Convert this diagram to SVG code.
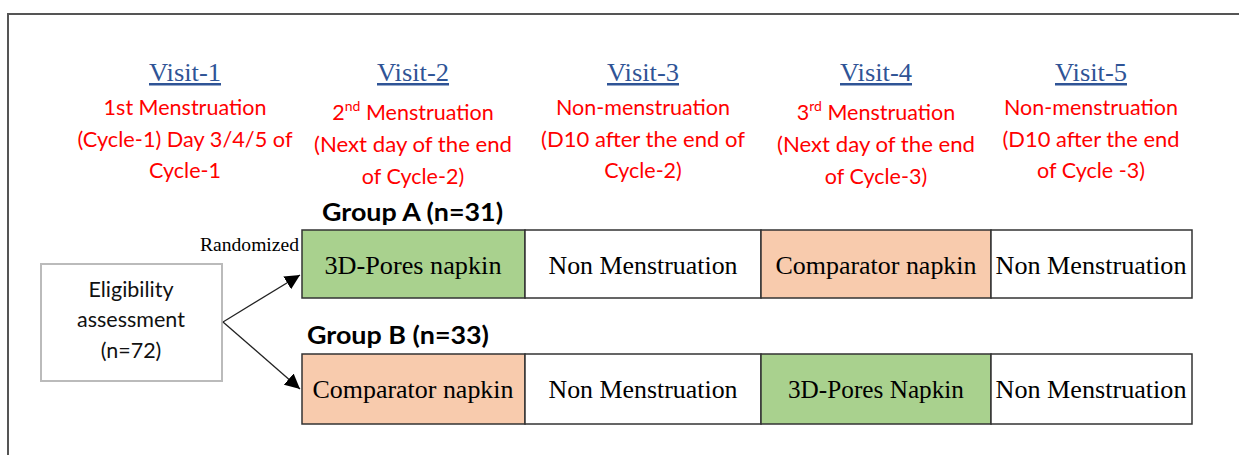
<svg xmlns="http://www.w3.org/2000/svg" width="1239" height="455" viewBox="0 0 1239 455">
<style>
.visit{font-family:"Liberation Serif",serif;font-size:25px;fill:#2F5496;text-anchor:middle;text-decoration:underline}
.red{font-family:Lato,"Liberation Sans",sans-serif;font-size:21.5px;fill:#FF0000;text-anchor:middle}
.grp{font-family:Lato,"Liberation Sans",sans-serif;font-size:24px;font-weight:bold;fill:#000}
.cell{stroke:#333;stroke-width:1.5}
.ct{font-family:"Liberation Serif",serif;font-size:26px;fill:#000;text-anchor:middle}
.el{font-family:Lato,"Liberation Sans",sans-serif;font-size:21.5px;fill:#111;text-anchor:middle}
.conn{stroke:#222;stroke-width:1.3;fill:none;marker-end:url(#ah)}
</style>
<defs>
<marker id="ah" viewBox="0 0 10 10" refX="10" refY="5" markerWidth="15" markerHeight="15" markerUnits="userSpaceOnUse" orient="auto"><path d="M0,0 L10,5 L0,10 z" fill="#000"/></marker>
</defs>
<rect width="1239" height="455" fill="#fff"/>
<path d="M8,455 V14 H1239" fill="none" stroke="#555" stroke-width="2"/>

<g id="visit1">
<text class="visit" x="185" y="81" textLength="72" lengthAdjust="spacingAndGlyphs">Visit-1</text>
<text class="red" x="185" y="115">1st Menstruation</text>
<text class="red" x="185" y="147" textLength="215" lengthAdjust="spacingAndGlyphs">(Cycle-1) Day 3/4/5 of</text>
<text class="red" x="185" y="178">Cycle-1</text>
</g>
<g id="visit2">
<text class="visit" x="413" y="81" textLength="72" lengthAdjust="spacingAndGlyphs">Visit-2</text>
<text class="red" x="413" y="120">2<tspan font-size="14" dy="-9">nd</tspan><tspan dy="9"> Menstruation</tspan></text>
<text class="red" x="413" y="152" textLength="198" lengthAdjust="spacingAndGlyphs">(Next day of the end</text>
<text class="red" x="413" y="184">of Cycle-2)</text>
</g>
<g id="visit3">
<text class="visit" x="643" y="81" textLength="72" lengthAdjust="spacingAndGlyphs">Visit-3</text>
<text class="red" x="643" y="115">Non-menstruation</text>
<text class="red" x="643" y="147" textLength="204" lengthAdjust="spacingAndGlyphs">(D10 after the end of</text>
<text class="red" x="643" y="178">Cycle-2)</text>
</g>
<g id="visit4">
<text class="visit" x="876" y="81" textLength="72" lengthAdjust="spacingAndGlyphs">Visit-4</text>
<text class="red" x="876" y="120">3<tspan font-size="14" dy="-9">rd</tspan><tspan dy="9"> Menstruation</tspan></text>
<text class="red" x="876" y="152" textLength="198" lengthAdjust="spacingAndGlyphs">(Next day of the end</text>
<text class="red" x="876" y="184">of Cycle-3)</text>
</g>
<g id="visit5">
<text class="visit" x="1091" y="81" textLength="72" lengthAdjust="spacingAndGlyphs">Visit-5</text>
<text class="red" x="1091" y="115">Non-menstruation</text>
<text class="red" x="1091" y="147" textLength="177" lengthAdjust="spacingAndGlyphs">(D10 after the end</text>
<text class="red" x="1091" y="178">of Cycle -3)</text>
</g>

<g id="groupA-label"><text class="grp" x="322" y="221" textLength="181" lengthAdjust="spacingAndGlyphs">Group A (n=31)</text></g>
<g id="groupB-label"><text class="grp" x="307" y="344" textLength="182" lengthAdjust="spacingAndGlyphs">Group B (n=33)</text></g>

<g id="eligibility">
<rect x="41" y="264" width="181" height="117" fill="#fff" stroke="#bbb" stroke-width="2"/>
<text class="el" x="131" y="297">Eligibility</text>
<text class="el" x="131" y="327">assessment</text>
<text class="el" x="131" y="358">(n=72)</text>
</g>

<g id="randomized"><text x="299" y="251" font-family="Liberation Serif,serif" font-size="18" text-anchor="end" fill="#000" textLength="99" lengthAdjust="spacingAndGlyphs">Randomized</text></g>

<g id="rowA">
<rect class="cell" x="302" y="230" width="223" height="68" fill="#A9D18E"/>
<rect class="cell" x="525" y="230" width="236" height="68" fill="#fff"/>
<rect class="cell" x="761" y="230" width="230" height="68" fill="#F8CBAD"/>
<rect class="cell" x="991" y="230" width="201" height="68" fill="#fff"/>
<text class="ct" x="413" y="274" textLength="177" lengthAdjust="spacingAndGlyphs">3D-Pores napkin</text>
<text class="ct" x="643" y="274" textLength="189" lengthAdjust="spacingAndGlyphs">Non Menstruation</text>
<text class="ct" x="876" y="274" textLength="201" lengthAdjust="spacingAndGlyphs">Comparator napkin</text>
<text class="ct" x="1091" y="274" textLength="191" lengthAdjust="spacingAndGlyphs">Non Menstruation</text>
</g>

<g id="rowB">
<rect class="cell" x="302" y="354" width="223" height="70" fill="#F8CBAD"/>
<rect class="cell" x="525" y="354" width="236" height="70" fill="#fff"/>
<rect class="cell" x="761" y="354" width="230" height="70" fill="#A9D18E"/>
<rect class="cell" x="991" y="354" width="201" height="70" fill="#fff"/>
<text class="ct" x="413" y="398" textLength="201" lengthAdjust="spacingAndGlyphs">Comparator napkin</text>
<text class="ct" x="643" y="398" textLength="189" lengthAdjust="spacingAndGlyphs">Non Menstruation</text>
<text class="ct" x="876" y="398" textLength="176" lengthAdjust="spacingAndGlyphs">3D-Pores Napkin</text>
<text class="ct" x="1091" y="398" textLength="191" lengthAdjust="spacingAndGlyphs">Non Menstruation</text>
</g>

<g id="connectors">
<line class="conn" x1="223" y1="322" x2="300" y2="275"/>
<line class="conn" x1="223" y1="322" x2="300" y2="389"/>
</g>
</svg>
